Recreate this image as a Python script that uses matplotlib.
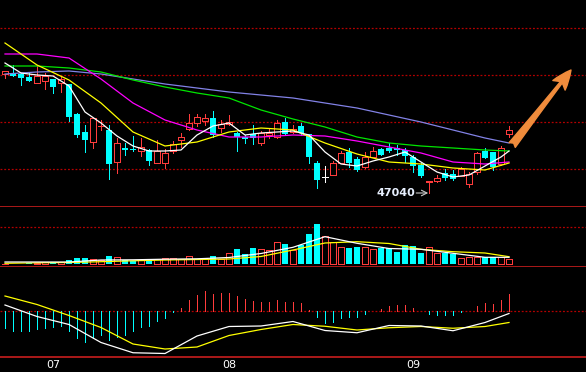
import matplotlib
matplotlib.use("Agg")
import matplotlib.pyplot as plt
import numpy as np

# ---------------------------------------------------------------------------
# Daily bars (price)
# ---------------------------------------------------------------------------
opens = [49420, 49440, 49420, 49360, 49240, 49280, 49320, 49240, 49220, 48620,
         48260, 48060, 48380, 48300, 47660, 47940, 47920, 47880, 47900, 47640,
         47640, 47880, 48100, 48320, 48440, 48480, 48540, 48340, 48420, 48240,
         48160, 48220, 48040, 48200, 48160, 48460, 48260, 48380, 48220, 47640,
         47360, 47400, 47640, 47860, 47720, 47560, 47760, 47920, 47940, 47940,
         47900, 47760, 47600, 47260, 47280, 47440, 47420, 47380, 47220, 47460,
         47880, 47860, 47620, 48220]
highs = [49480, 49600, 49440, 49460, 49580, 49440, 49320, 49360, 49220, 48640,
         48400, 48540, 48500, 48400, 48140, 48040, 48180, 48140, 47920, 48100,
         47920, 48080, 48240, 48620, 48620, 48620, 48680, 48500, 48600, 48260,
         48200, 48400, 48280, 48340, 48500, 48540, 48400, 48440, 48220, 47680,
         47580, 47680, 47880, 47940, 47760, 47860, 47960, 47940, 48040, 48000,
         47940, 47800, 47640, 47280, 47400, 47520, 47500, 47560, 47460, 47860,
         47940, 47860, 47980, 48380]
lows = [49340, 49380, 49200, 49280, 49240, 49120, 49040, 49060, 48480, 48160,
        47860, 47940, 48300, 47320, 47440, 47800, 47880, 47780, 47600, 47640,
        47540, 47840, 47960, 48300, 48380, 48400, 48160, 48260, 48400, 47880,
        48040, 48020, 48000, 48140, 48140, 48220, 48240, 48200, 47640, 47140,
        47260, 47400, 47640, 47560, 47480, 47540, 47760, 47800, 47860, 47800,
        47660, 47460, 47360, 47040, 47260, 47300, 47300, 47380, 47160, 47420,
        47740, 47500, 47600, 48160]
closes = [49480, 49380, 49340, 49280, 49380, 49380, 49160, 49320, 48560, 48200,
          48100, 48540, 48390, 47620, 48040, 47900, 47900, 47960, 47680, 47880,
          47840, 48020, 48160, 48440, 48560, 48540, 48200, 48420, 48460, 48160,
          48120, 48140, 48240, 48240, 48440, 48220, 48320, 48240, 47760, 47300,
          47360, 47640, 47840, 47640, 47500, 47760, 47880, 47800, 47880, 47900,
          47780, 47580, 47380, 47280, 47340, 47340, 47320, 47520, 47420, 47840,
          47740, 47560, 47940, 48300]
volumes = [500, 500, 500, 800, 800, 2000, 2000, 2000, 4000, 6000,
           6000, 5000, 4000, 8000, 7000, 4000, 3000, 4000, 4000, 5000,
           6000, 6000, 5000, 8000, 5000, 5000, 8000, 5000, 11000, 15000,
           10000, 16000, 15000, 14000, 22000, 20000, 14500, 19000, 30000, 40000,
           28000, 22000, 17000, 16000, 17000, 17000, 15000, 16000, 16000, 12000,
           19000, 18000, 11000, 17000, 11000, 11000, 10000, 6000, 7000, 7000,
           7000, 7000, 7000, 5000]
macd_hist = [-68, -80, -80, -80, -72, -68, -65, -61, -81, -108,
             -125, -109, -95, -117, -104, -95, -79, -65, -59, -41,
             -28, -5, 13, 43, 65, 81, 69, 73, 73, 61,
             49, 41, 37, 37, 45, 37, 37, 33, 5, -25,
             -48, -43, -27, -23, -23, -11, -1, 9, 21, 25,
             25, 13, 1, -11, -15, -15, -15, -3, 1, 21,
             33, 29, 45, 69]

# MA5 sampled every 2nd bar, the other indicator lines every 4th bar
ma5_idx = [0, 2, 4, 6, 8, 10, 12, 14, 16, 18, 20, 22, 24, 26, 28, 30, 32,
           34, 36, 38, 40, 42, 44, 46, 48, 50, 52, 54, 56, 58, 60, 62, 63]
ma5 = [49640, 49440, 49400, 49380, 49180, 48660, 48440, 48180, 47980, 47880,
       47880, 47900, 48200, 48380, 48440, 48200, 48240, 48260, 48280, 48200,
       47860, 47620, 47580, 47680, 47760, 47860, 47660, 47460, 47360, 47400,
       47580, 47760, 47880]
ma_idx = [0, 4, 8, 12, 16, 20, 24, 28, 32, 36, 40, 44, 48, 52, 56, 60, 63]
ma10 = [50040, 49600, 49300, 48840, 48260, 47980, 48060, 48260, 48340, 48300,
        48040, 47820, 47660, 47620, 47540, 47500, 47640]
ma20 = [49820, 49820, 49740, 49320, 48840, 48500, 48300, 48160, 48160, 48200,
        48180, 48080, 47960, 47840, 47660, 47620, 47660]
ma40 = [49580, 49580, 49540, 49460, 49300, 49160, 49040, 48940, 48700, 48520,
        48360, 48160, 48040, 47980, 47940, 47900, 47880]
ma60 = [49420, 49460, 49480, 49420, 49320, 49220, 49140, 49060, 49000, 48940,
        48840, 48740, 48600, 48460, 48300, 48140, 48040]
vol_ma5 = [2000, 2000, 2000, 4000, 4200, 4800, 5200, 6500, 10500, 16700,
           27300, 20700, 15500, 14700, 10700, 6700, 6700]
vol_ma10 = [700, 1200, 1500, 2300, 3200, 4000, 4500, 5000, 7500, 14000,
            21000, 22300, 20500, 14700, 12300, 11000, 7300]
dif = [24, -22, -54, -126, -167, -170, -100, -62, -60, -42,
       -78, -87, -58, -60, -79, -46, -10]
dea = [60, 26, -18, -66, -132, -152, -144, -98, -74, -54,
       -61, -76, -67, -62, -69, -62, -46]

month_pos = [6, 28, 51]
month_labels = ["07", "08", "09"]
grid_levels = [50340, 49400, 48460, 47520]

RED = "#FF3C3C"
CYAN = "#00FFFF"
GRID = "#B40000"
BORDER = "#C81E1E"
PX = 0.72  # one pixel in points at 100 dpi

o = np.array(opens)
h = np.array(highs)
l = np.array(lows)
c = np.array(closes)
idx = np.arange(len(o))
up = c > o
dn = c < o
flat = c == o

fig = plt.figure(figsize=(5.86, 3.72), dpi=100, facecolor="black")
ax_k = fig.add_axes([0, 1 - 207 / 372, 1, 207 / 372])
ax_v = fig.add_axes([0, 1 - 267 / 372, 1, 60 / 372])
ax_m = fig.add_axes([0, 1 - 357 / 372, 1, 90 / 372])

for ax in (ax_k, ax_v, ax_m):
    ax.set_facecolor("black")
    ax.set_xlim(-0.625, 72.625)
    ax.set_yticks([])
    ax.set_xticks([])
    for s in ("top", "left", "right"):
        ax.spines[s].set_visible(False)
    ax.spines["bottom"].set_color(BORDER)
    ax.spines["bottom"].set_linewidth(1.2)

dotted = dict(color=GRID, lw=0.9, linestyle=(0, (1.5, 1.5)), zorder=0)

# --- price panel ---
ax_k.set_ylim(46760, 50900)
for g in grid_levels:
    ax_k.axhline(g, **dotted)

wick_col = np.where(up, RED, np.where(dn, CYAN, "white"))
ax_k.vlines(idx, l, h, colors=wick_col, lw=PX, zorder=2, antialiased=False)
ax_k.bar(idx[up], c[up] - o[up], bottom=o[up], width=0.72,
         facecolor="black", edgecolor=RED, lw=PX, zorder=3, antialiased=False)
ax_k.bar(idx[dn], o[dn] - c[dn], bottom=c[dn], width=0.72,
         color=CYAN, lw=0, zorder=3, antialiased=False)
ax_k.hlines(o[flat], idx[flat] - 0.36, idx[flat] + 0.36, colors="white",
            lw=PX, zorder=3, antialiased=False)

ax_k.plot(ma_idx, ma60, color="#8282E6", lw=0.9, zorder=4)
ax_k.plot(ma_idx, ma40, color="#00E600", lw=0.9, zorder=4)
ax_k.plot(ma_idx, ma20, color="#FF00FF", lw=0.9, zorder=4)
ax_k.plot(ma_idx, ma10, color="#FFFF00", lw=0.9, zorder=4)
ax_k.plot(ma5_idx, ma5, color="white", lw=0.9, zorder=4)

# lowest low marker
i_low = int(np.argmin(l))
ax_k.text(i_low - 1.75, l[i_low], f"{l[i_low]}", color="#E8F0FF",
          fontsize=8, fontweight="bold", ha="right", va="center")
ax_k.annotate("", xy=(i_low - 0.1, l[i_low]), xytext=(i_low - 1.6, l[i_low]),
              arrowprops=dict(arrowstyle="->", color="#C8C8C8", lw=0.8,
                              shrinkA=0, shrinkB=0))

# big orange arrow
ax_k.annotate("", xy=(70.75, 49500), xytext=(63.4, 48000),
              arrowprops=dict(arrowstyle="fancy,head_length=1.0,head_width=0.8,tail_width=0.4",
                              color="#F08C3C", mutation_scale=14,
                              shrinkA=0, shrinkB=0), zorder=5)

# --- volume panel ---
v = np.array(volumes)
ax_v.set_ylim(-3000, 57000)
ax_v.axhline(37000, **dotted)
vol_up = c >= o
ax_v.bar(idx[vol_up], v[vol_up], width=0.72, facecolor="black",
         edgecolor=RED, lw=PX, zorder=2, antialiased=False)
ax_v.bar(idx[~vol_up], v[~vol_up], width=0.72, color=CYAN, lw=0, zorder=2,
         antialiased=False)
ax_v.plot(ma_idx, vol_ma10, color="#FFFF00", lw=0.9, zorder=3)
ax_v.plot(ma_idx, vol_ma5, color="white", lw=0.9, zorder=3)

# --- MACD panel ---
m = np.array(macd_hist)
ax_m.set_ylim(-184, 176)
ax_m.axhline(0, **dotted)
ax_m.vlines(idx, 0, m, colors=np.where(m >= 0, RED, CYAN), lw=PX, zorder=2,
            antialiased=False)
ax_m.plot(ma_idx, dea, color="#FFFF00", lw=0.9, zorder=3)
ax_m.plot(ma_idx, dif, color="white", lw=0.9, zorder=3)

ax_m.set_xticks(month_pos)
ax_m.set_xticklabels(month_labels)
ax_m.tick_params(axis="x", length=0, colors="white", labelsize=8, pad=2)

fig.savefig("out.png", dpi=100, facecolor="black")
